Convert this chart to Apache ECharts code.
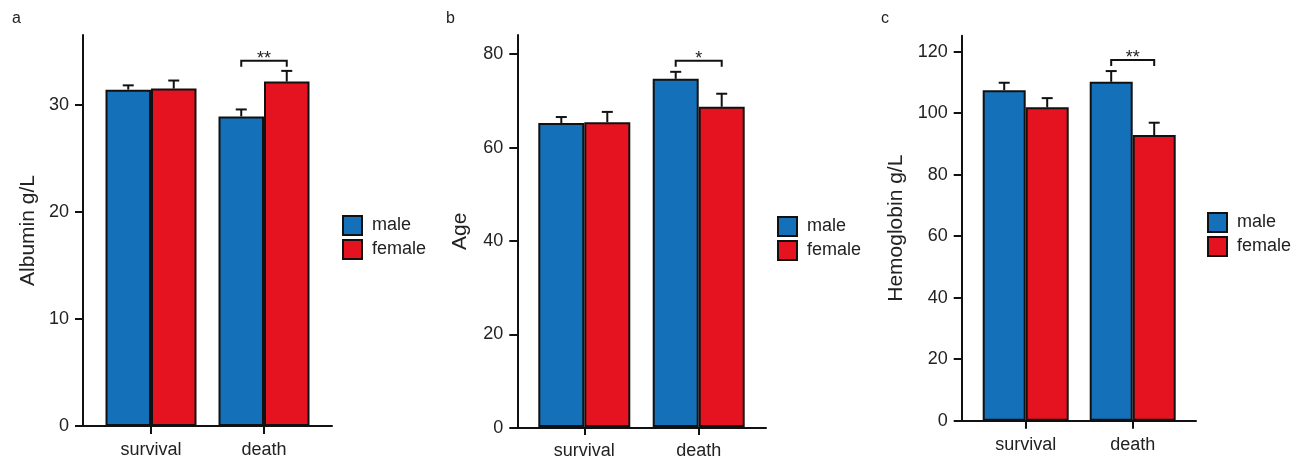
<!DOCTYPE html>
<html><head><meta charset="utf-8">
<script src="https://cdn.jsdelivr.net/npm/echarts@6/dist/echarts.min.js"></script>
<style>html,body{margin:0;padding:0;background:#fff}#c{width:1291px;height:460px}</style>
</head><body><div id="c"></div>
<script>
// ---- data ----
const categories = ['survival', 'death'];
const seriesNames = ['male', 'female'];

const albuminMale = [31.4, 28.9];
const albuminMaleSE = [0.4, 0.65];
const albuminFemale = [31.5, 32.15];
const albuminFemaleSE = [0.75, 1.0];
const albuminTicks = [0, 10, 20, 30];
const albuminSig = [1, 34.1, '**'];

const ageMale = [65.2, 74.7];
const ageMaleSE = [1.3, 1.5];
const ageFemale = [65.4, 68.7];
const ageFemaleSE = [2.2, 2.8];
const ageTicks = [0, 20, 40, 60, 80];
const ageSig = [1, 78.6, '*'];

const hbMale = [107.5, 110.2];
const hbMaleSE = [2.4, 3.5];
const hbFemale = [101.9, 92.9];
const hbFemaleSE = [3.0, 4.0];
const hbTicks = [0, 20, 40, 60, 80, 100, 120];
const hbSig = [1, 117.3, '**'];

// ---- styles / layout ----
const BLUE = '#1470B8', RED = '#E5131F', INK = '#111', TXT = '#222';
const FONT = '"Liberation Sans", Arial, Helvetica, sans-serif';

const panels = [
  {tag: 'a', name: 'Albumin g/L', male: albuminMale, maleSE: albuminMaleSE, female: albuminFemale, femaleSE: albuminFemaleSE,
   ticks: albuminTicks, max: 36.5, sig: albuminSig,
   L: {axisX: 83, top: 35, bottom: 426, xEnd: 332, c0: 151, c1: 264, bw: 45.5, nameGap: 44, legL: 342, legT: 215, tagX: 12, tagY: 11}},
  {tag: 'b', name: 'Age', male: ageMale, maleSE: ageMaleSE, female: ageFemale, femaleSE: ageFemaleSE,
   ticks: ageTicks, max: 84.1, sig: ageSig,
   L: {axisX: 517.3, top: 35, bottom: 427.7, xEnd: 766, c0: 584.3, c1: 698.7, bw: 46, nameGap: 47, legL: 777, legT: 216, tagX: 446, tagY: 11}},
  {tag: 'c', name: 'Hemoglobin g/L', male: hbMale, maleSE: hbMaleSE, female: hbFemale, femaleSE: hbFemaleSE,
   ticks: hbTicks, max: 125.2, sig: hbSig,
   L: {axisX: 961.7, top: 35.7, bottom: 420.7, xEnd: 1196, c0: 1025.7, c1: 1132.7, bw: 43, nameGap: 55, legL: 1207, legT: 212, tagX: 881, tagY: 11}}
];

function errRender(offset) {
  return function (params, api) {
    const i = api.value(0), v = api.value(1), e = api.value(2);
    const p0 = api.coord([i, v]);
    const p1 = api.coord([i, v + e]);
    const x = p0[0] + offset;
    return {type: 'group', children: [
      {type: 'line', shape: {x1: x, y1: p0[1], x2: x, y2: p1[1]}, style: {stroke: INK, lineWidth: 2}},
      {type: 'line', shape: {x1: x - 5.5, y1: p1[1], x2: x + 5.5, y2: p1[1]}, style: {stroke: INK, lineWidth: 2}}
    ]};
  };
}
function sigRender(bw, label) {
  return function (params, api) {
    const p = api.coord([api.value(0), api.value(1)]);
    const xl = p[0] - bw / 2, xr = p[0] + bw / 2, y = p[1];
    return {type: 'group', children: [
      {type: 'polyline', shape: {points: [[xl, y + 6], [xl, y], [xr, y], [xr, y + 6]]}, style: {stroke: INK, lineWidth: 2, fill: null}},
      {type: 'text', style: {text: label, x: p[0], y: y - 2, align: 'center', verticalAlign: 'middle', fontSize: 18, fontFamily: FONT, fill: TXT}}
    ]};
  };
}

const option = {
  animation: false,
  backgroundColor: '#fff',
  title: [], grid: [], xAxis: [], yAxis: [], legend: [], series: []
};

panels.forEach((P, k) => {
  const L = P.L;
  const gA = 2 * k, gB = 2 * k + 1;
  const h = L.bottom - L.top;
  const step = L.c1 - L.c0;
  option.title.push({text: P.tag, left: L.tagX, top: L.tagY, padding: 0,
    textStyle: {fontSize: 16, fontWeight: 'normal', color: TXT, fontFamily: FONT}});
  option.grid.push({left: L.axisX, top: L.top, width: L.xEnd - L.axisX, height: h});
  option.grid.push({left: L.c0 - step / 2, top: L.top, width: step * 2, height: h});
  // axis grid
  option.xAxis.push({gridIndex: gA, type: 'value', min: 0, max: 1,
    axisLine: {show: true, onZero: false, lineStyle: {color: INK, width: 2}},
    axisTick: {show: false}, axisLabel: {show: false}, splitLine: {show: false}});
  option.yAxis.push({gridIndex: gA, type: 'value', min: 0, max: P.max,
    name: P.name, nameLocation: 'middle', nameGap: L.nameGap,
    nameTextStyle: {fontSize: 21, color: TXT, fontFamily: FONT},
    axisLine: {show: true, lineStyle: {color: INK, width: 2}},
    axisTick: {show: true, length: 8, customValues: P.ticks, lineStyle: {color: INK, width: 2}},
    axisLabel: {customValues: P.ticks, margin: 14, fontSize: 18, color: TXT, fontFamily: FONT},
    splitLine: {show: false}});
  // bar grid
  option.xAxis.push({gridIndex: gB, type: 'category', data: categories,
    axisLine: {show: false},
    axisTick: {show: true, alignWithLabel: true, length: 8, lineStyle: {color: INK, width: 2}},
    axisLabel: {margin: 15, fontSize: 18, color: TXT, fontFamily: FONT},
    splitLine: {show: false}});
  option.yAxis.push({gridIndex: gB, type: 'value', min: 0, max: P.max, show: false, splitLine: {show: false}});

  option.legend.push({orient: 'vertical', left: L.legL, top: L.legT, padding: 0, itemGap: 3,
    itemWidth: 19, itemHeight: 19, icon: 'rect', data: seriesNames, selectedMode: false,
    itemStyle: {borderColor: INK, borderWidth: 2},
    textStyle: {fontSize: 18, lineHeight: 19, color: TXT, fontFamily: FONT, padding: [0, 0, 0, 5]}});

  const vals = [P.male, P.female], ses = [P.maleSE, P.femaleSE], cols = [BLUE, RED];
  seriesNames.forEach((nm, j) => {
    option.series.push({name: nm, type: 'bar', xAxisIndex: gB, yAxisIndex: gB,
      data: vals[j], barWidth: L.bw, barGap: '0%', z: 2,
      itemStyle: {color: cols[j], borderColor: INK, borderWidth: 2}});
  });
  seriesNames.forEach((nm, j) => {
    option.series.push({type: 'custom', xAxisIndex: gB, yAxisIndex: gB, z: 3, silent: true,
      data: categories.map((c, i) => [i, vals[j][i], ses[j][i]]),
      renderItem: errRender((j === 0 ? -1 : 1) * L.bw / 2)});
  });
  option.series.push({type: 'custom', xAxisIndex: gB, yAxisIndex: gB, z: 3, silent: true,
    data: [[P.sig[0], P.sig[1]]], renderItem: sigRender(L.bw, P.sig[2])});
});

const chart = echarts.init(document.getElementById('c'), null, {renderer: 'canvas'});
chart.setOption(option);
</script></body></html>
